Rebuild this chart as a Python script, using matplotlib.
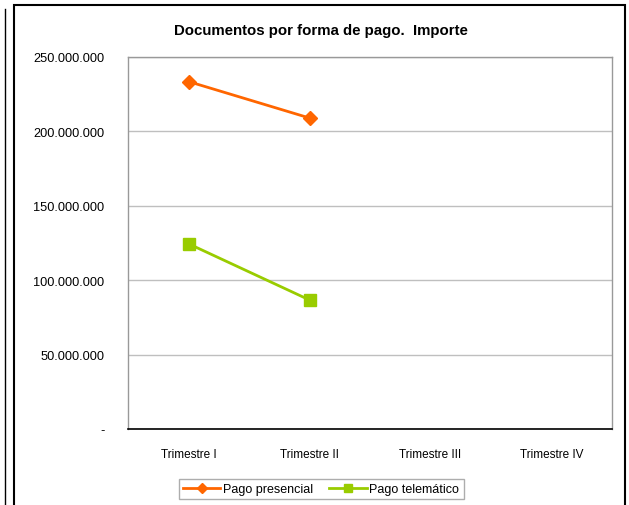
import matplotlib.pyplot as plt
from matplotlib.lines import Line2D
from matplotlib.patches import Rectangle

plt.rcParams['font.family'] = ['Liberation Sans', 'DejaVu Sans']

trimestres = ['Trimestre I', 'Trimestre II', 'Trimestre III', 'Trimestre IV']
presencial = [233500000, 209000000]
telematico = [124500000, 86700000]
yticks = [0, 50000000, 100000000, 150000000, 200000000, 250000000]
ytick_labels = ['-', '50.000.000', '100.000.000', '150.000.000', '200.000.000', '250.000.000']

W, H = 629, 506
fig = plt.figure(figsize=(W / 100, H / 100), dpi=100)

# marcos del gráfico
fig.patches.append(Rectangle((14 / W, -0.1), (625 - 14) / W, 1.1 - 6 / H,
                             transform=fig.transFigure, fill=False,
                             edgecolor='black', linewidth=1.5))
fig.lines.append(Line2D([5 / W, 5 / W], [-0.1, 1 - 10 / H], transform=fig.transFigure,
                        color='black', linewidth=1))

ax = fig.add_axes([128 / W, 1 - 430 / H, (612 - 128) / W, (430 - 58) / H])

x = list(range(len(presencial)))
ax.plot(x, presencial, color='#FF6600', linewidth=2, marker='D', markersize=7,
        label='Pago presencial')
ax.plot(x, telematico, color='#99CC00', linewidth=2, marker='s', markersize=8,
        label='Pago telemático')

ax.set_xlim(-0.5, 3.5)
ax.set_ylim(0, 250000000)
ax.set_xticks(range(len(trimestres)))
ax.set_xticklabels(trimestres, fontsize=8.5)
ax.set_yticks(yticks)
ax.set_yticklabels(ytick_labels, fontsize=9.2)
ax.tick_params(axis='both', length=0)
ax.tick_params(axis='y', pad=17)
ax.tick_params(axis='x', pad=14)
ax.yaxis.grid(True, color='#bfbfbf', linewidth=1)
ax.set_axisbelow(True)
for s in ['top', 'right', 'left']:
    ax.spines[s].set_color('#999999')
    ax.spines[s].set_linewidth(1)
ax.spines['bottom'].set_color('black')
ax.spines['bottom'].set_linewidth(1.2)

fig.text(321 / W, 1 - 31 / H, 'Documentos por forma de pago.  Importe',
         ha='center', va='center', fontsize=10.8, fontweight='bold')

leg = fig.legend(loc='center', bbox_to_anchor=(321 / W, 1 - 490 / H), ncol=2,
                 fontsize=9, frameon=True, fancybox=False, edgecolor='#999999',
                 handlelength=3.0, handletextpad=0.2, columnspacing=1.3,
                 borderpad=0.35, markerscale=0.8)
leg.get_frame().set_linewidth(1)

fig.savefig('out.png', dpi=100)
